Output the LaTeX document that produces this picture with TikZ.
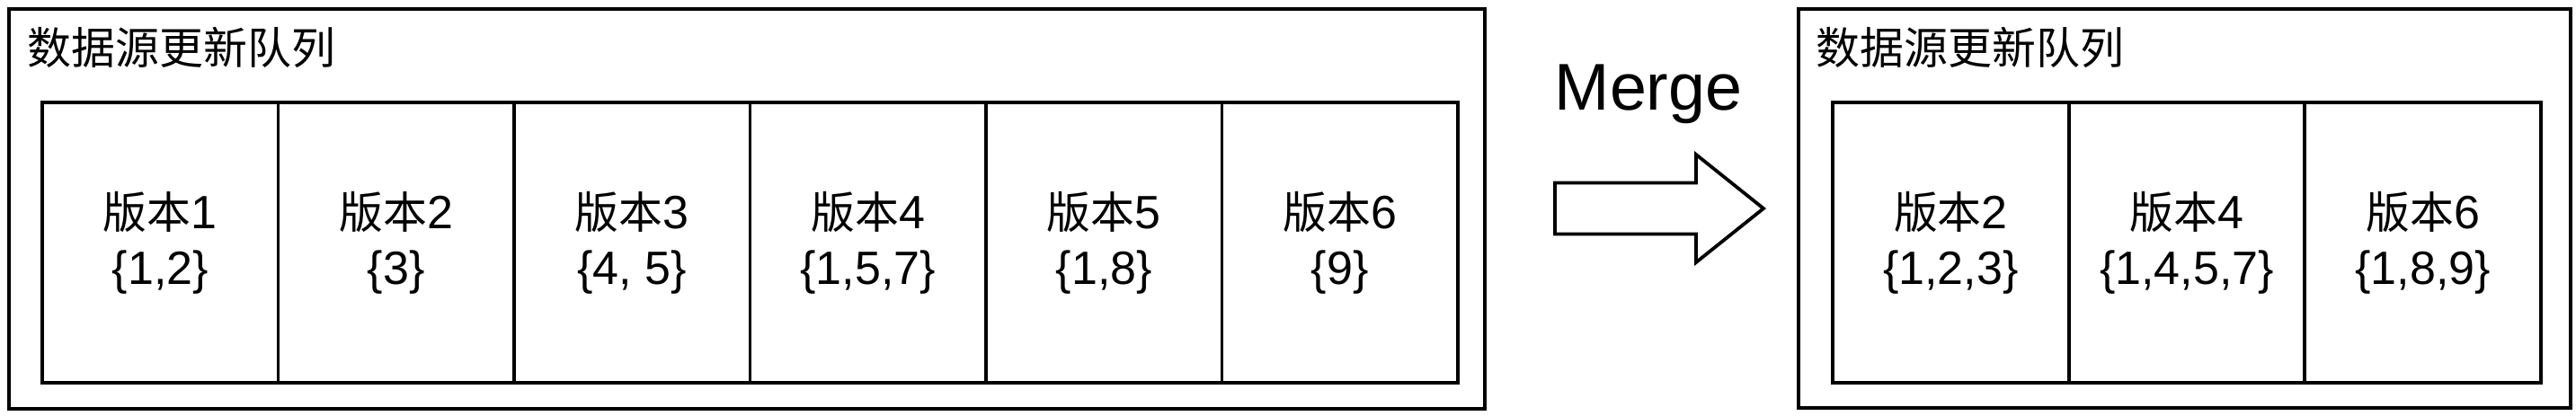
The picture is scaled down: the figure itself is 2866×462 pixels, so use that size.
\documentclass[tikz,border=0pt]{standalone}
\usepackage{fontspec}
\setmainfont{Liberation Sans}
\newfontfamily\cjk{Noto Sans CJK SC}[Scale=0.94]
\begin{document}
\begin{tikzpicture}[x=0.25pt,y=-0.25pt,
  frame/.style={draw,line width=0.95pt},
  cell/.style={draw,line width=0.95pt,minimum width=65.6pt,minimum height=78pt,inner sep=0pt,align=center,font=\fontsize{13}{15.5}\selectfont},
  title/.style={anchor=base west,inner sep=0pt,font=\fontsize{13}{15.5}\selectfont\cjk},
  blockarrow/.style={draw,line width=0.95pt,line join=miter}]
\useasboundingbox (0,0) rectangle (2866,462);
% left queue
\node[frame,inner sep=0pt,minimum width=410.5pt,minimum height=111.25pt] (lq) at (831,232.5) {};
\node[title] (lt) at (30,71) {数据源更新队列};
\foreach \i/\v/\s in {1/1/{1,2},2/2/{3},3/3/{4, 5},4/4/{1,5,7},5/5/{1,8},6/6/{9}}{
  \node[cell] (l\i) at ({47+131.25+262.5*(\i-1)},270) {{\cjk 版本}\v\\\{\s\}};
}
% merge arrow
\node[anchor=base,inner sep=0pt,font=\fontsize{18.4}{20}\selectfont] (mg) at (1834,122) {Merge};
\coordinate (a1) at (1730,203.5);
\coordinate (a2) at (1887,203.5);
\coordinate (a3) at (1887,172);
\coordinate (a4) at (1962,232);
\coordinate (a5) at (1887,292);
\coordinate (a6) at (1887,260.5);
\coordinate (a7) at (1730,260.5);
\draw[blockarrow] (a1) -- (a2) -- (a3) -- (a4) -- (a5) -- (a6) -- (a7) -- cycle;
% right queue
\node[frame,inner sep=0pt,minimum width=214.75pt,minimum height=111pt] (rq) at (2430.5,232) {};
\node[title] (rt) at (2020,71) {数据源更新队列};
\foreach \i/\v/\s in {1/2/{1,2,3},2/4/{1,4,5,7},3/6/{1,8,9}}{
  \node[cell] (r\i) at ({2039+131.33+262.67*(\i-1)},270) {{\cjk 版本}\v\\\{\s\}};
}
\end{tikzpicture}
\end{document}
